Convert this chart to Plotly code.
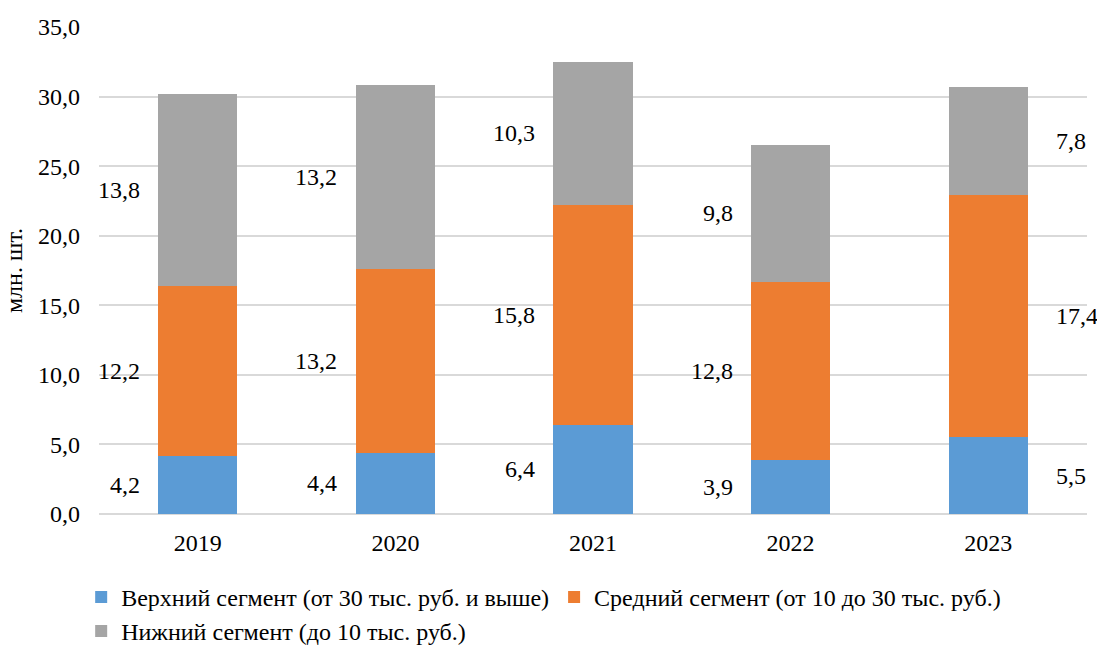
import plotly.graph_objects as go

years = ["2019", "2020", "2021", "2022", "2023"]
upper = [4.2, 4.4, 6.4, 3.9, 5.5]
middle = [12.2, 13.2, 15.8, 12.8, 17.4]
lower = [13.8, 13.2, 10.3, 9.8, 7.8]
names = [
    "Верхний сегмент (от 30 тыс. руб. и выше)",
    "Средний сегмент (от 10 до 30 тыс. руб.)",
    "Нижний сегмент (до 10 тыс. руб.)",
]
colors = ["#5B9BD5", "#ED7D31", "#A5A5A5"]
series = [upper, middle, lower]
FONT = "Liberation Serif"
FS = 24

fig = go.Figure()
for vals, name, col in zip(series, names, colors):
    fig.add_trace(go.Bar(x=years, y=vals, name=name, marker_color=col,
                         marker_line_width=0, width=0.4))

annotations = []
base = [0.0] * len(years)
for vals in series:
    for i, v in enumerate(vals):
        last = (i == len(years) - 1)
        annotations.append(dict(
            x=i, y=base[i] + v / 2, xref="x", yref="y",
            text=f"{v:.1f}".replace(".", ","), showarrow=False,
            xanchor="left" if last else "right",
            xshift=66 if last else -56,
            font=dict(family=FONT, size=FS, color="#000000"),
        ))
        base[i] += v

fig.update_layout(
    barmode="stack",
    width=1097, height=648,
    margin=dict(l=99, r=10, t=27, b=134, autoexpand=False),
    paper_bgcolor="white", plot_bgcolor="white",
    font=dict(family=FONT, size=FS, color="#000000"),
    separators=", ",
    annotations=annotations,
    showlegend=True,
    legend=dict(orientation="h", xref="container", x=0.074, xanchor="left",
                yref="container", y=0.113, yanchor="top", itemwidth=30,
                font=dict(family=FONT, size=FS), traceorder="normal"),
    xaxis=dict(type="category", range=[-0.5, 4.5], showgrid=False,
               showline=False, ticks="", ticklabelstandoff=12,
               automargin=False, tickfont=dict(family=FONT, size=FS)),
    yaxis=dict(range=[0, 35], dtick=5, tickformat=".1f", showgrid=True,
               gridcolor="#D9D9D9", gridwidth=1.5, zeroline=True,
               zerolinecolor="#D9D9D9", zerolinewidth=1.5, ticks="",
               ticklabelstandoff=18, automargin=False,
               tickfont=dict(family=FONT, size=FS),
               title=dict(text="млн. шт.", standoff=8,
                          font=dict(family=FONT, size=24))),
)

fig.write_html("out.html", config={"displayModeBar": False},
               post_script="document.body.style.margin='0';")
